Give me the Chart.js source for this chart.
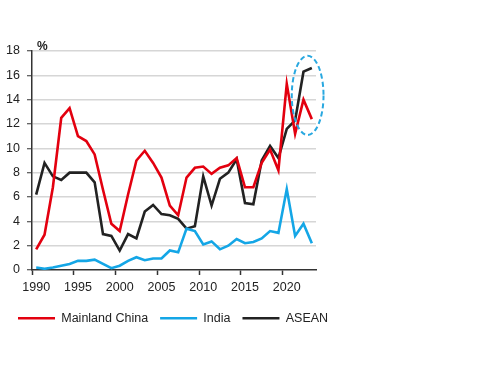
<!DOCTYPE html>
<html>
<head>
<meta charset="utf-8">
<script src="https://cdn.jsdelivr.net/npm/chart.js@4"></script>
<style>
  html, body { margin: 0; padding: 0; background: #ffffff; }
  #wrap { width: 488px; height: 366px; }
</style>
</head>
<body>
<div id="wrap"><canvas id="chart" width="488" height="366"></canvas></div>
<script>
// Data
const years = [];
for (let y = 1990; y <= 2023; y++) years.push(String(y));

const mainlandChina = [1.7, 2.9, 6.8, 12.5, 13.3, 11.0, 10.6, 9.5, 6.6, 3.8,
  3.2, 6.2, 9.0, 9.8, 8.8, 7.6, 5.3, 4.5, 7.6, 8.4,
  8.5, 7.9, 8.4, 8.6, 9.2, 6.8, 6.8, 8.8, 9.9, 8.2,
  15.3, 11.2, 14.0, 12.4];

const india = [0.2, 0.1, 0.2, 0.35, 0.5, 0.75, 0.75, 0.85, 0.5, 0.15,
  0.35, 0.75, 1.05, 0.8, 0.95, 0.95, 1.6, 1.45, 3.4, 3.2,
  2.1, 2.35, 1.7, 2.0, 2.55, 2.2, 2.3, 2.6, 3.2, 3.05,
  6.65, 2.8, 3.8, 2.2];

const asean = [6.2, 8.8, 7.7, 7.4, 8.0, 8.0, 8.0, 7.2, 2.95, 2.8,
  1.6, 2.95, 2.6, 4.8, 5.35, 4.6, 4.5, 4.2, 3.4, 3.6,
  7.7, 5.3, 7.5, 8.0, 9.1, 5.5, 5.4, 9.0, 10.2, 9.2,
  11.6, 12.3, 16.3, 16.6];

const yTicks = [0, 2, 4, 6, 8, 10, 12, 14, 16, 18];

// sorotan oval putus-putus (dalam satuan data)
const highlightYears = [2020.6, 2024.4];
const highlightRange = [11.1, 17.6];

const fontFamily = "'Liberation Sans', Arial, sans-serif";
const textColor = "#222222";

// Plugin: simbol %, oval putus-putus, geser legenda sedikit
const extrasPlugin = {
  id: "extras",
  afterLayout(chart) {
    if (chart.legend) {
      chart.legend.left += 6;
      chart.legend.right += 6;
    }
  },
  afterDatasetsDraw(chart) {
    const ctx = chart.ctx;
    const x = chart.scales.x;
    const y = chart.scales.y;
    const idx = (yr) => yr - Number(years[0]);

    // oval
    const x1 = x.getPixelForValue(idx(highlightYears[0]));
    const x2 = x.getPixelForValue(idx(highlightYears[1]));
    const y1 = y.getPixelForValue(highlightRange[1]);
    const y2 = y.getPixelForValue(highlightRange[0]);
    ctx.save();
    ctx.strokeStyle = "#29a8e0";
    ctx.lineWidth = 2;
    ctx.setLineDash([5, 3]);
    ctx.beginPath();
    ctx.ellipse((x1 + x2) / 2, (y1 + y2) / 2, (x2 - x1) / 2, (y2 - y1) / 2, 0, 0, Math.PI * 2);
    ctx.stroke();
    ctx.restore();

    // simbol %
    ctx.save();
    ctx.fillStyle = textColor;
    ctx.font = "bold 12px " + fontFamily;
    ctx.textAlign = "left";
    ctx.textBaseline = "alphabetic";
    ctx.fillText("%", chart.chartArea.left + 5, chart.chartArea.top - 1);
    ctx.restore();
  },
};

function buatDataset(label, data, color) {
  return {
    label: label,
    data: data,
    borderColor: color,
    backgroundColor: color,
    borderWidth: 2.6,
    pointRadius: 0,
    pointStyle: "line",
    tension: 0,
  };
}

new Chart(document.getElementById("chart").getContext("2d"), {
  type: "line",
  data: {
    labels: years,
    datasets: [
      buatDataset("Mainland China", mainlandChina, "#e3000f"),
      buatDataset("India", india, "#14a6e6"),
      buatDataset("ASEAN", asean, "#222222"),
    ],
  },
  options: {
    responsive: false,
    animation: false,
    layout: {
      padding: { left: 0, right: 130, top: 51, bottom: 31.5 },
    },
    plugins: {
      legend: {
        position: "bottom",
        align: "start",
        labels: {
          usePointStyle: true,
          pointStyleWidth: 37,
          padding: 12,
          color: textColor,
          font: { family: fontFamily, size: 12.5 },
        },
      },
      tooltip: { enabled: false },
    },
    scales: {
      x: {
        type: "category",
        offset: true,
        grid: {
          display: true,
          offset: true,
          drawOnChartArea: false,
          tickLength: 5,
          tickColor: (c) => (c.index % 5 === 0 ? "#333333" : "rgba(0,0,0,0)"),
          tickWidth: 1.5,
        },
        border: { color: "#333333", width: 1.5 },
        ticks: {
          autoSkip: false,
          maxRotation: 0,
          padding: 5,
          color: textColor,
          font: { family: fontFamily, size: 12.5 },
          callback: function (value, index) {
            return index % 5 === 0 ? this.getLabelForValue(value) : "";
          },
        },
      },
      y: {
        min: 0,
        max: 18,
        afterFit: (scale) => {
          scale.width = 32;
        },
        afterBuildTicks: (scale) => {
          scale.ticks = yTicks.map((v) => ({ value: v }));
        },
        grid: {
          color: (c) => (c.tick && c.tick.value === 0 ? "rgba(0,0,0,0)" : "#d6d6d6"),
          lineWidth: 1.5,
          tickLength: 5,
          tickColor: "#333333",
          tickWidth: 1,
        },
        border: { color: "#333333", width: 1.5 },
        ticks: {
          padding: 7,
          color: textColor,
          font: { family: fontFamily, size: 12.5 },
        },
      },
      // sumbu kosong di kanan, hanya untuk menyisakan ruang
      kosong: {
        type: "linear",
        position: "right",
        min: 0,
        max: 1,
        afterFit: (scale) => {
          scale.width = 42;
        },
        grid: { display: false },
        border: { display: false },
        ticks: { display: false },
      },
    },
  },
  plugins: [extrasPlugin],
});
</script>
</body>
</html>
